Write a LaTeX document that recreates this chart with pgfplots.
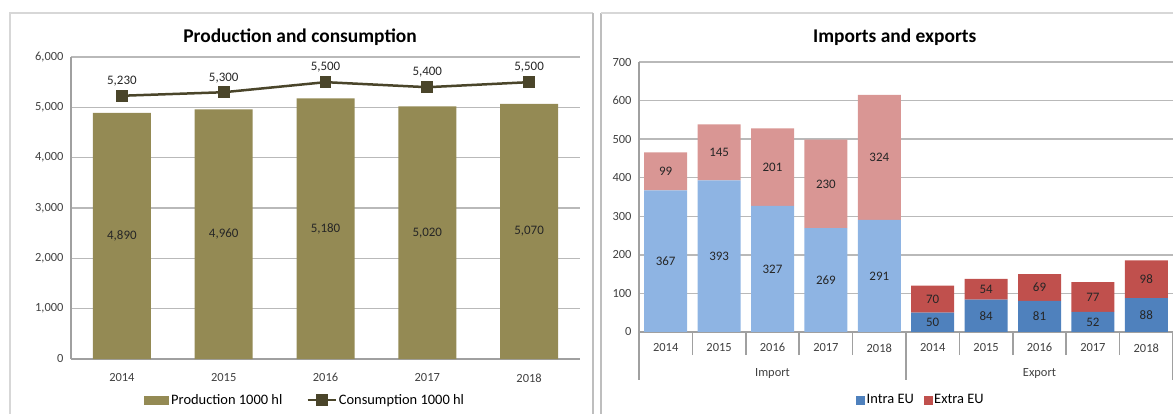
\documentclass[border=0pt]{standalone}
\usepackage{pgfplots}
\usepackage{pgfplotstable}
\pgfplotsset{compat=1.18}
\usepackage{fontspec}
\setmainfont{Carlito}
\definecolor{olivebar}{RGB}{148,138,84}
\definecolor{oliveline}{RGB}{74,69,42}
\definecolor{gridc}{RGB}{185,185,185}
\definecolor{axc}{RGB}{160,160,160}
\definecolor{ticktext}{RGB}{64,64,64}
\definecolor{labtext}{RGB}{38,38,38}
\definecolor{intraL}{RGB}{142,180,227}
\definecolor{extraL}{RGB}{217,150,148}
\definecolor{intraD}{RGB}{79,129,189}
\definecolor{extraD}{RGB}{192,80,77}
\definecolor{framec}{RGB}{190,190,190}
\definecolor{framel}{RGB}{215,215,215}
\newcommand\tickfont{\fontsize{12.5}{14}\selectfont}
\newcommand\labfont{\fontsize{13}{15}\selectfont}
\newcommand\legfont{\fontsize{14.5}{16}\selectfont}
\newcommand\titlefont{\fontsize{19.5}{22}\selectfont\bfseries}
\pgfplotsset{/pgf/number format/.cd, 1000 sep={,}, assume math mode=true}

\pgfplotstableread{
x prod cons
0 4890 5230
1 4960 5300
2 5180 5500
3 5020 5400
4 5070 5500
}\pc

\pgfplotstableread{
x impin expin impex expex
0 367 0 99 0
1 393 0 145 0
2 327 0 201 0
3 269 0 230 0
4 291 0 324 0
5 0 50 0 70
6 0 84 0 54
7 0 81 0 69
8 0 52 0 77
9 0 88 0 98
}\bars

\pgfplotstableread{
x intra extra
0 367 99
1 393 145
2 327 201
3 269 230
4 291 324
5 50 70
6 84 54
7 81 69
8 52 77
9 88 98
}\labs

\begin{document}
\begin{tikzpicture}
\useasboundingbox (0,0) rectangle (1173bp,414bp);
\draw[framel, line width=1.2bp] (10bp,-2bp) -- (10bp,401bp) -- (593bp,401bp);
\draw[framec, line width=1.5bp] (593bp,401bp) -- (593bp,-2bp);
\draw[framec, line width=1.5bp] (601bp,-2bp) -- (601bp,401bp);
\draw[framel, line width=1.2bp] (601bp,401bp) -- (1176bp,401bp);

% ---------------- left chart ----------------
\begin{axis}[
  at={(71bp,55bp)}, anchor=south west, scale only axis,
  width=509bp, height=302bp,
  xmin=-0.5, xmax=4.5, ymin=0, ymax=6000,
  xtick={0,...,4}, xticklabels={2014,2015,2016,2017,2018},
  ytick={0,1000,...,6000}, scaled y ticks=false,
  ymajorgrids, grid style={gridc, line width=1.5bp},
  axis x line=bottom, axis y line=left,
  axis line style={-, axc, line width=1.5bp},
  major tick length=0pt,
  tick label style={font=\tickfont, text=ticktext},
  xticklabel style={yshift=-11bp},
  yticklabel style={xshift=-4bp},
  title={Production and consumption},
  title style={font=\titlefont, at={(0.45,1)}, anchor=center, yshift=14bp},
  legend style={at={(0.46,-0.136)}, anchor=center, draw=none, fill=none,
    legend columns=2, font=\legfont,
    /tikz/every even column/.append style={column sep=22bp}},
  clip=false,
]
\addplot[ybar, bar width=58bp, fill=olivebar, draw=none,
  legend image code/.code={\fill[olivebar] (0bp,-4.5bp) rectangle (25bp,4.5bp);}]
  table[x=x, y=prod]{\pc};
\addlegendentry{Production 1000 hl}
\addplot[oliveline, line width=2.5bp, mark=square*, mark size=4.7bp,
  mark options={solid},
  nodes near coords, point meta=y,
  every node near coord/.append style={font=\labfont, text=labtext, anchor=south, yshift=5bp},
  legend image code/.code={\draw[oliveline, line width=2.5bp] (0bp,0bp) -- (28bp,0bp);
     \fill[oliveline] (9.3bp,-4.7bp) rectangle (18.7bp,4.7bp);}]
  table[x=x, y=cons]{\pc};
\addlegendentry{Consumption 1000 hl}
\addplot[draw=none, forget plot, nodes near coords, point meta=explicit,
  every node near coord/.append style={font=\labfont, text=labtext, anchor=center}]
  table[x=x, y expr=\thisrow{prod}/2, meta=prod]{\pc};
\end{axis}

% ---------------- right chart ----------------
\begin{axis}[
  at={(639bp,82bp)}, anchor=south west, scale only axis,
  width=534bp, height=270bp,
  xmin=-0.5, xmax=9.5, ymin=0, ymax=700,
  ybar stacked, bar width=43bp,
  xtick={0,...,9},
  xticklabels={2014,2015,2016,2017,2018,2014,2015,2016,2017,2018},
  minor xtick={-0.5,0.5,...,9.5},
  ytick={0,100,...,700},
  ymajorgrids, grid style={gridc, line width=1.5bp},
  axis x line=bottom, axis y line=left,
  axis line style={-, axc, line width=1.5bp},
  major tick length=0pt, minor tick length=23bp, tick align=outside,
  minor tick style={axc, line width=1.5bp},
  tick label style={font=\tickfont, text=ticktext},
  xticklabel style={yshift=-8bp},
  yticklabel style={xshift=-4bp},
  extra x ticks={2,7}, extra x tick labels={Import,Export},
  extra x tick style={major tick length=0pt, xticklabel style={yshift=-25bp}},
  title={Imports and exports},
  title style={font=\titlefont, at={(0.479,1)}, anchor=center, yshift=19bp},
  legend style={at={(0.528,-0.252)}, anchor=center, draw=none, fill=none,
    legend columns=2, font=\legfont,
    /tikz/every even column/.append style={column sep=8bp}},
  clip=false,
]
\addplot[fill=intraL, draw=none, forget plot] table[x=x, y=impin]{\bars};
\addplot[fill=intraD, draw=none, forget plot] table[x=x, y=expin]{\bars};
\addplot[fill=extraL, draw=none, forget plot] table[x=x, y=impex]{\bars};
\addplot[fill=extraD, draw=none, forget plot] table[x=x, y=expex]{\bars};
\addlegendimage{legend image code/.code={\fill[intraD] (0bp,-4bp) rectangle (8bp,4bp);}}
\addlegendentry{Intra EU}
\addlegendimage{legend image code/.code={\fill[extraD] (0bp,-4bp) rectangle (8bp,4bp);}}
\addlegendentry{Extra EU}
\draw[axc, line width=1.5bp] (axis cs:-0.5,0) -- ([yshift=-48bp]axis cs:-0.5,0);
\draw[axc, line width=1.5bp] (axis cs:4.5,0) -- ([yshift=-48bp]axis cs:4.5,0);
\draw[axc, line width=1.5bp] (axis cs:9.5,0) -- ([yshift=-48bp]axis cs:9.5,0);
\end{axis}

\begin{axis}[
  at={(639bp,82bp)}, anchor=south west, scale only axis,
  width=534bp, height=270bp,
  xmin=-0.5, xmax=9.5, ymin=0, ymax=700,
  hide axis, clip=false,
]
\addplot[draw=none, nodes near coords, point meta=explicit,
  every node near coord/.append style={font=\labfont, text=labtext, anchor=center}]
  table[x=x, y expr=\thisrow{intra}/2, meta=intra]{\labs};
\addplot[draw=none, nodes near coords, point meta=explicit,
  every node near coord/.append style={font=\labfont, text=labtext, anchor=center}]
  table[x=x, y expr=\thisrow{intra}+\thisrow{extra}/2, meta=extra]{\labs};
\end{axis}
\end{tikzpicture}
\end{document}
